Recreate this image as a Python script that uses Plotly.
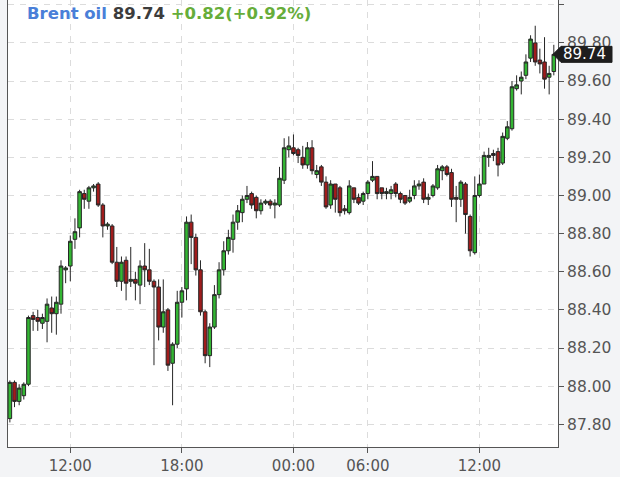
import pandas as pd
import plotly.graph_objects as go

# ---- data (15-minute bars, Brent oil) ----
opens = [87.83, 88.02, 87.92, 87.95, 88.01, 88.37, 88.36, 88.33, 88.34, 88.41,
         88.38, 88.43, 88.61, 88.63, 88.77, 88.83, 89.01, 88.97, 89.04, 89.06,
         88.95, 88.84, 88.84, 88.65, 88.55, 88.66, 88.55, 88.56, 88.53, 88.63,
         88.61, 88.55, 88.52, 88.31, 88.40, 88.12, 88.22, 88.44, 88.51, 88.86,
         88.78, 88.61, 88.39, 88.16, 88.31, 88.48, 88.61, 88.71, 88.77, 88.86,
         88.91, 88.98, 89.01, 88.99, 88.92, 88.96, 88.97, 88.95, 88.95, 89.08,
         89.24, 89.25, 89.24, 89.20, 89.16, 89.25, 89.11, 89.15, 89.07, 88.95,
         89.06, 89.04, 88.93, 88.91, 89.04, 88.99, 88.97, 89.01, 89.08, 89.10,
         89.04, 89.01, 89.01, 89.06, 89.01, 89.00, 88.97, 89.00, 89.05, 89.07,
         88.98, 89.00, 89.04, 89.13, 89.15, 89.12, 88.99, 88.98, 89.06, 88.89,
         88.70, 89.00, 89.06, 89.20, 89.22, 89.23, 89.17, 89.30, 89.35, 89.56,
         89.60, 89.63, 89.72, 89.80, 89.71, 89.70, 89.62, 89.65]
highs = [88.03, 88.03, 88.01, 88.02, 88.37, 88.39, 88.40, 88.38, 88.46, 88.47,
         88.47, 88.66, 88.63, 88.79, 88.88, 89.03, 89.03, 89.05, 89.06, 89.07,
         88.96, 88.86, 88.85, 88.73, 88.68, 88.68, 88.73, 88.60, 88.66, 88.75,
         88.72, 88.56, 88.56, 88.56, 88.41, 88.23, 88.50, 88.52, 88.89, 88.90,
         88.80, 88.66, 88.40, 88.33, 88.53, 88.65, 88.76, 88.82, 88.90, 88.95,
         89.00, 89.05, 89.02, 89.00, 88.98, 88.98, 88.98, 88.98, 89.15, 89.30,
         89.31, 89.32, 89.25, 89.26, 89.28, 89.29, 89.16, 89.16, 89.10, 89.08,
         89.06, 89.05, 88.95, 89.08, 89.04, 89.01, 89.02, 89.08, 89.18, 89.10,
         89.04, 89.04, 89.05, 89.07, 89.02, 89.00, 89.03, 89.08, 89.08, 89.09,
         89.01, 89.06, 89.16, 89.16, 89.16, 89.14, 89.05, 89.08, 89.07, 88.90,
         89.10, 89.11, 89.23, 89.25, 89.24, 89.25, 89.33, 89.39, 89.60, 89.63,
         89.65, 89.74, 89.84, 89.89, 89.77, 89.83, 89.68, 89.79]
lows = [87.81, 87.89, 87.90, 87.93, 88.00, 88.29, 88.29, 88.30, 88.23, 88.28,
        88.27, 88.38, 88.54, 88.55, 88.72, 88.78, 88.93, 88.93, 89.02, 88.94,
        88.78, 88.82, 88.64, 88.52, 88.50, 88.45, 88.52, 88.45, 88.43, 88.52,
        88.53, 88.11, 88.24, 88.28, 88.08, 87.90, 88.20, 88.36, 88.45, 88.64,
        88.58, 88.37, 88.12, 88.10, 88.30, 88.46, 88.58, 88.69, 88.70, 88.82,
        88.86, 88.96, 88.93, 88.88, 88.90, 88.95, 88.93, 88.88, 88.94, 89.06,
        89.20, 89.21, 89.17, 89.14, 89.14, 89.11, 89.09, 89.05, 88.93, 88.93,
        88.91, 88.89, 88.90, 88.90, 88.96, 88.95, 88.95, 88.98, 89.07, 88.98,
        88.98, 88.98, 88.98, 88.99, 88.96, 88.95, 88.96, 88.98, 89.03, 88.96,
        88.95, 88.99, 89.03, 89.08, 89.10, 88.94, 88.86, 88.94, 88.80, 88.68,
        88.69, 88.99, 89.06, 89.15, 89.18, 89.10, 89.16, 89.29, 89.34, 89.55,
        89.53, 89.61, 89.70, 89.68, 89.64, 89.56, 89.53, 89.63]
closes = [88.02, 87.92, 87.99, 88.01, 88.36, 88.35, 88.34, 88.36, 88.43, 88.38,
          88.44, 88.63, 88.62, 88.76, 88.81, 89.02, 88.98, 89.04, 89.05, 88.95,
          88.84, 88.85, 88.65, 88.55, 88.65, 88.54, 88.56, 88.54, 88.63, 88.61,
          88.55, 88.52, 88.31, 88.39, 88.11, 88.22, 88.44, 88.50, 88.86, 88.78,
          88.61, 88.39, 88.16, 88.31, 88.48, 88.61, 88.71, 88.78, 88.86, 88.92,
          88.98, 89.00, 88.95, 88.92, 88.96, 88.97, 88.95, 88.96, 89.09, 89.25,
          89.26, 89.22, 89.21, 89.16, 89.25, 89.13, 89.13, 89.07, 88.94, 89.06,
          88.98, 88.91, 88.92, 89.05, 88.98, 88.96, 89.01, 89.07, 89.10, 89.01,
          89.01, 89.02, 89.03, 89.01, 88.98, 88.96, 88.99, 89.05, 89.06, 88.98,
          88.99, 89.05, 89.14, 89.15, 89.11, 88.98, 88.98, 89.07, 88.90, 88.71,
          89.00, 89.06, 89.21, 89.21, 89.21, 89.16, 89.31, 89.36, 89.57, 89.58,
          89.62, 89.70, 89.82, 89.70, 89.69, 89.61, 89.64, 89.74]
prev_close = 88.92

# bar timestamps: day 1 from 08:45 to 00:00, pause, then 02:15 to 16:00
day1 = pd.date_range("2024-03-11 08:45", "2024-03-12 00:00", freq="15min")
day2 = pd.date_range("2024-03-12 02:15", "2024-03-12 16:00", freq="15min")
times = [t.strftime("%Y-%m-%d %H:%M") for t in list(day1) + list(day2)]

tick_times = ["2024-03-11 12:00", "2024-03-11 18:00", "2024-03-12 00:00",
              "2024-03-12 06:00", "2024-03-12 12:00"]
tick_labels = ["12:00", "18:00", "00:00", "06:00", "12:00"]

last = closes[-1]
chg = last - prev_close
pct = chg / prev_close * 100

FONT = "DejaVu Sans"
AX = "#555555"
GRID = "#dcdcdc"

fig = go.Figure(go.Candlestick(
    x=times, open=opens, high=highs, low=lows, close=closes,
    increasing=dict(line=dict(color="#262626", width=1), fillcolor="#33b533"),
    decreasing=dict(line=dict(color="#262626", width=1), fillcolor="#a01c1c"),
    whiskerwidth=0, showlegend=False, name="Brent oil",
))

fig.update_layout(
    width=620, height=477,
    margin=dict(l=8, r=62, t=0, b=30),
    paper_bgcolor="#f3f4f6", plot_bgcolor="white",
    font=dict(family=FONT, color=AX),
    boxgap=0.15, boxgroupgap=0.1,
    xaxis=dict(
        type="category", range=[-0.4, len(times) - 0.1],
        rangeslider=dict(visible=False),
        tickmode="array", tickvals=tick_times, ticktext=tick_labels,
        showgrid=True, gridcolor=GRID, griddash="6px,6px", gridwidth=1,
        showline=True, linecolor=AX, linewidth=1,
        ticks="outside", ticklen=5, tickcolor=AX,
        tickfont=dict(family=FONT, size=15, color=AX),
        zeroline=False,
    ),
    yaxis=dict(
        side="right", range=[87.681, 90.025],
        tick0=87.8, dtick=0.2, tickformat=".2f",
        showgrid=True, gridcolor=GRID, griddash="6px,6px", gridwidth=1,
        showline=True, mirror=True, linecolor=AX, linewidth=1,
        ticks="outside", ticklen=5, tickcolor=AX,
        tickfont=dict(family=FONT, size=15.5, color=AX),
        zeroline=False,
    ),
)

# last-price badge on the right axis
fig.add_shape(
    type="path", xref="paper", yref="y",
    xsizemode="pixel", ysizemode="pixel", xanchor=1, yanchor=last,
    path="M -5,0 L 3,8 L 54,8 L 54,-8 L 3,-8 Z",
    fillcolor="#1e1e1e", line=dict(color="#1e1e1e", width=1), layer="above",
)
fig.add_annotation(
    xref="paper", yref="y", x=1, y=last, xanchor="left", yanchor="middle",
    xshift=3, showarrow=False, text=f"{last:.2f}",
    font=dict(family=FONT, size=15, color="white"),
)

# title line
fig.add_annotation(
    xref="paper", yref="paper", x=0.031, y=1, xanchor="left", yanchor="top",
    yshift=-2, showarrow=False,
    text=(f"<b><span style='color:#4a7fd8'>Brent oil</span> "
          f"<span style='color:#3c3c3c'>{last:.2f}</span> "
          f"<span style='color:#66ad3a'>{chg:+.2f}({pct:+.2f}%)</span></b>"),
    font=dict(family=FONT, size=16.5),
)

fig.write_html("out.html", config={"displayModeBar": False},
               post_script="document.body.style.margin='0';")
